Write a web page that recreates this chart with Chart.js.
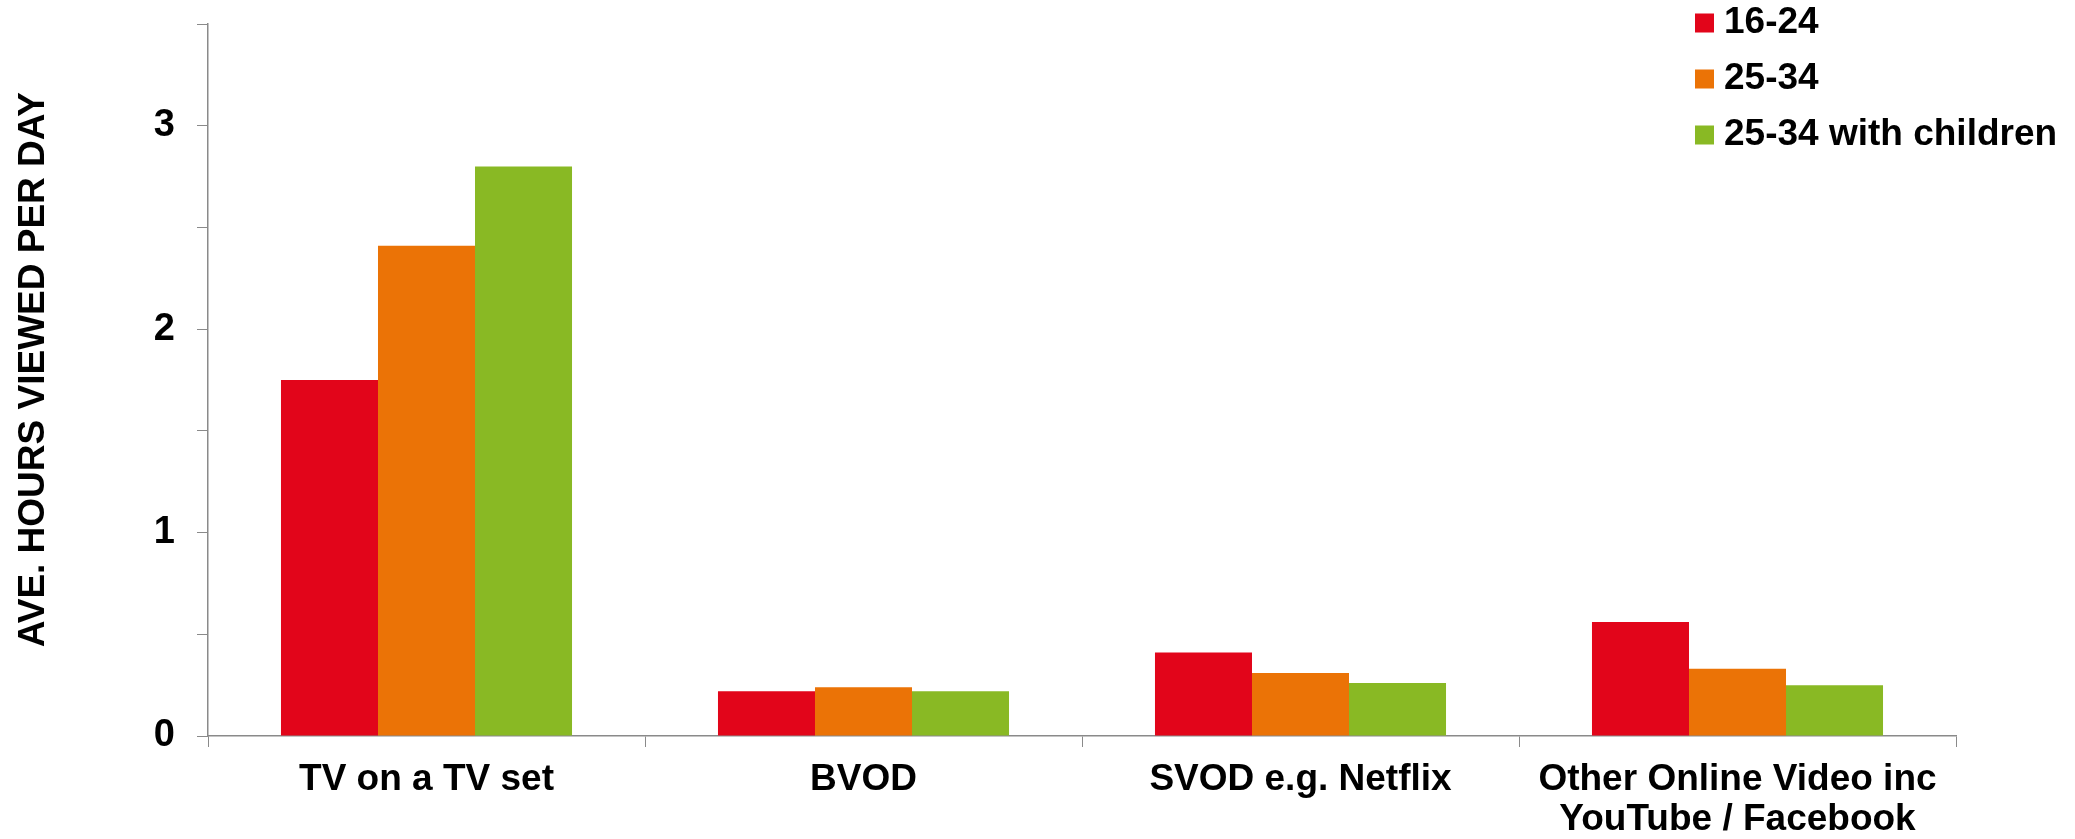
<!DOCTYPE html>
<html>
<head>
<meta charset="utf-8">
<title>Average hours viewed per day by age group</title>
<script src="https://cdn.jsdelivr.net/npm/chart.js@4/dist/chart.umd.min.js"></script>
<style>
  html, body { margin: 0; padding: 0; background: #ffffff; }
  #wrap { width: 2075px; height: 839px; }
</style>
</head>
<body>
<div id="wrap"><canvas id="chart" width="2075" height="839"></canvas></div>
<script>
// Viewing categories (multi-line labels are arrays)
const categories = [
  'TV on a TV set',
  'BVOD',
  'SVOD e.g. Netflix',
  ['Other Online Video inc', 'YouTube / Facebook']
];

// Average hours viewed per day, per age group
const age16to24 = [1.75, 0.22, 0.41, 0.56];
const age25to34 = [2.41, 0.24, 0.31, 0.33];
const age25to34WithChildren = [2.80, 0.22, 0.26, 0.25];

const seriesNames = ['16-24', '25-34', '25-34 with children'];
const seriesColors = ['#E2051A', '#EB7306', '#89B924'];

// Y axis range and labelled ticks
const yMin = 0;
const yMax = 3.5;
const yStep = 0.5;
const yTickLabels = [0, 1, 2, 3];

const FONT = '"Liberation Sans", Arial, Helvetica, sans-serif';
const AXIS_GREY = '#8a8a8a';

// Places the legend column in the top-right corner, over the plot
const legendCorner = {
  id: 'legendCorner',
  beforeDraw(chart) {
    const lg = chart.legend;
    if (!lg) return;
    lg.left = 1684.5;
    lg.right = chart.width;
    lg.top = -14.5;
    lg.bottom = chart.height;
  }
};

const ctx = document.getElementById('chart').getContext('2d');
new Chart(ctx, {
  type: 'bar',
  data: {
    labels: categories,
    datasets: [
      { label: seriesNames[0], data: age16to24, backgroundColor: seriesColors[0], borderColor: seriesColors[0] },
      { label: seriesNames[1], data: age25to34, backgroundColor: seriesColors[1], borderColor: seriesColors[1] },
      { label: seriesNames[2], data: age25to34WithChildren, backgroundColor: seriesColors[2], borderColor: seriesColors[2] }
    ]
  },
  options: {
    responsive: false,
    animation: false,
    devicePixelRatio: 1,
    datasets: {
      bar: { categoryPercentage: 0.666, barPercentage: 1.0, borderWidth: 0 }
    },
    layout: { padding: { left: 0, right: 119, top: 24, bottom: 0 } },
    plugins: {
      tooltip: { enabled: false },
      title: { display: false },
      legend: {
        display: true,
        position: 'chartArea',
        align: 'start',
        labels: {
          color: '#000000',
          font: { family: FONT, size: 37, weight: 'bold' },
          // small box with a thick square stroke gives a 19px swatch close to the text
          boxWidth: 2,
          boxHeight: 2,
          padding: 19,
          generateLabels(chart) {
            return Chart.defaults.plugins.legend.labels.generateLabels(chart).map(item =>
              Object.assign(item, { lineWidth: 17, strokeStyle: item.fillStyle, lineJoin: 'miter' })
            );
          }
        }
      }
    },
    scales: {
      x: {
        offset: true,
        grid: {
          offset: true,
          drawOnChartArea: false,
          drawTicks: true,
          tickLength: 11,
          color: AXIS_GREY,
          lineWidth: 1
        },
        border: { display: true, color: AXIS_GREY, width: 1.5 },
        ticks: {
          color: '#000000',
          font: { family: FONT, size: 37, weight: 'bold', lineHeight: 1.08 },
          padding: 12.7,
          autoSkip: false,
          maxRotation: 0,
          minRotation: 0
        },
        afterFit(scale) {
          scale.height = 103;
          scale.paddingLeft = 0;
          scale.paddingRight = 0;
        }
      },
      y: {
        min: yMin,
        max: yMax,
        grid: {
          drawOnChartArea: false,
          drawTicks: true,
          tickLength: 11,
          color: AXIS_GREY,
          lineWidth: 1
        },
        border: { display: true, color: AXIS_GREY, width: 1.5 },
        ticks: {
          stepSize: yStep,
          color: '#000000',
          font: { family: FONT, size: 38, weight: 'bold' },
          padding: 22,
          callback(value) {
            return yTickLabels.includes(value) ? String(value) : '';
          }
        },
        title: {
          display: true,
          // leading spaces lift the rotated title slightly above the axis midpoint
          text: '  AVE. HOURS VIEWED PER DAY',
          color: '#000000',
          font: { family: FONT, size: 37, weight: 'bold', lineHeight: 1.2 },
          padding: { top: 11.8, bottom: 0 }
        },
        afterFit(scale) {
          scale.width = 208;
          scale.paddingTop = 0;
          scale.paddingBottom = 0;
        }
      }
    }
  },
  plugins: [legendCorner]
});
</script>
</body>
</html>
